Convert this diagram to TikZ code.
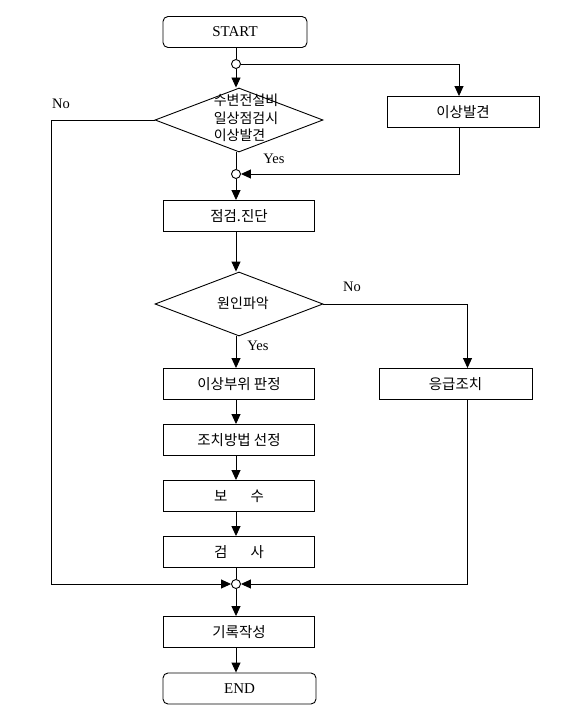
\documentclass[tikz,border=0pt]{standalone}
\usepackage{fontspec}
\setmainfont{Liberation Serif}
\newfontfamily\kr{Noto Sans CJK KR}
\usetikzlibrary{arrows.meta,shapes.geometric}
\begin{document}
\begin{tikzpicture}[x=1pt,y=-1pt, line width=0.9pt,
  box/.style={draw, minimum width=151pt, minimum height=31pt, inner sep=0pt, font=\kr\fontsize{14.5}{16}\selectfont},
  term/.style={draw, rounded corners=5pt, minimum height=31pt, inner sep=0pt, font=\fontsize{15}{17}\selectfont},
  dec/.style={draw, diamond, minimum width=168pt, minimum height=64pt, inner sep=0pt},
  dectext/.style={inner sep=0pt, font=\kr\fontsize{14}{17.5}\selectfont},
  jn/.style={draw, circle, minimum size=9pt, inner sep=0pt},
  lab/.style={font=\fontsize{14.5}{16}\selectfont, inner sep=0pt},
  arr/.style={-{Triangle[length=10pt,width=9pt]}}
]
\useasboundingbox (0,0) rectangle (578,719);

\node[term, minimum width=144pt] (start) at (235,32) {START};
\node[jn] (c1) at (236,64) {};
\node[dec] (d1) at (239,120) {};
\node[dectext, align=left] (d1t) at (246,118) {수변전설비\\일상점검시\\이상발견};
\node[box, minimum width=152pt] (ab) at (463,112) {이상발견};
\node[jn] (c2) at (236,174) {};
\node[box] (jj) at (239,216) {점검.진단};
\node[dec] (d2) at (239,304) {};
\node[dectext] (d2t) at (243,303) {원인파악};
\node[box] (b1) at (239,384) {이상부위 판정};
\node[box, minimum width=153pt] (em) at (455.5,384) {응급조치};
\node[box] (b2) at (239,440) {조치방법 선정};
\node[box] (b3) at (239,496) {보\hspace{1.6em}수};
\node[box] (b4) at (239,552) {검\hspace{1.6em}사};
\node[jn] (c3) at (236,584) {};
\node[box] (b5) at (239,632) {기록작성};
\node[term, minimum width=153pt] (end) at (239.5,688.5) {END};

\coordinate (abx) at (459,0);
\coordinate (emx) at (467.5,0);
\coordinate (lx) at (51,0);

\draw (start.south -| c1) -- (c1.north);
\draw[arr] (c1.south) -- (c1 |- d1.north);
\draw[arr] (c1.east) -| (abx |- ab.north);
\draw (c2 |- d1.south) -- (c2.north);
\draw[arr] (abx |- ab.south) |- (c2.east);
\draw[arr] (c2.south) -- (c2 |- jj.north);
\draw[arr] (c2 |- jj.south) -- (c2 |- d2.north);
\draw[arr] (c2 |- d2.south) -- (c2 |- b1.north);
\draw[arr] (d2.east) -| (emx |- em.north);
\draw[arr] (c2 |- b1.south) -- (c2 |- b2.north);
\draw[arr] (c2 |- b2.south) -- (c2 |- b3.north);
\draw[arr] (c2 |- b3.south) -- (c2 |- b4.north);
\draw (c2 |- b4.south) -- (c3.north);
\draw[arr] (d1.west) -| (lx |- c3) -- (c3.west);
\draw[arr] (emx |- em.south) |- (c3.east);
\draw[arr] (c3.south) -- (c3 |- b5.north);
\draw[arr] (c3 |- b5.south) -- (c3 |- end.north);

\node[lab] (no1) at (61,104) {No};
\node[lab] (yes1) at (274,159) {Yes};
\node[lab] (no2) at (352,287) {No};
\node[lab] (yes2) at (258,346) {Yes};
\end{tikzpicture}
\end{document}
